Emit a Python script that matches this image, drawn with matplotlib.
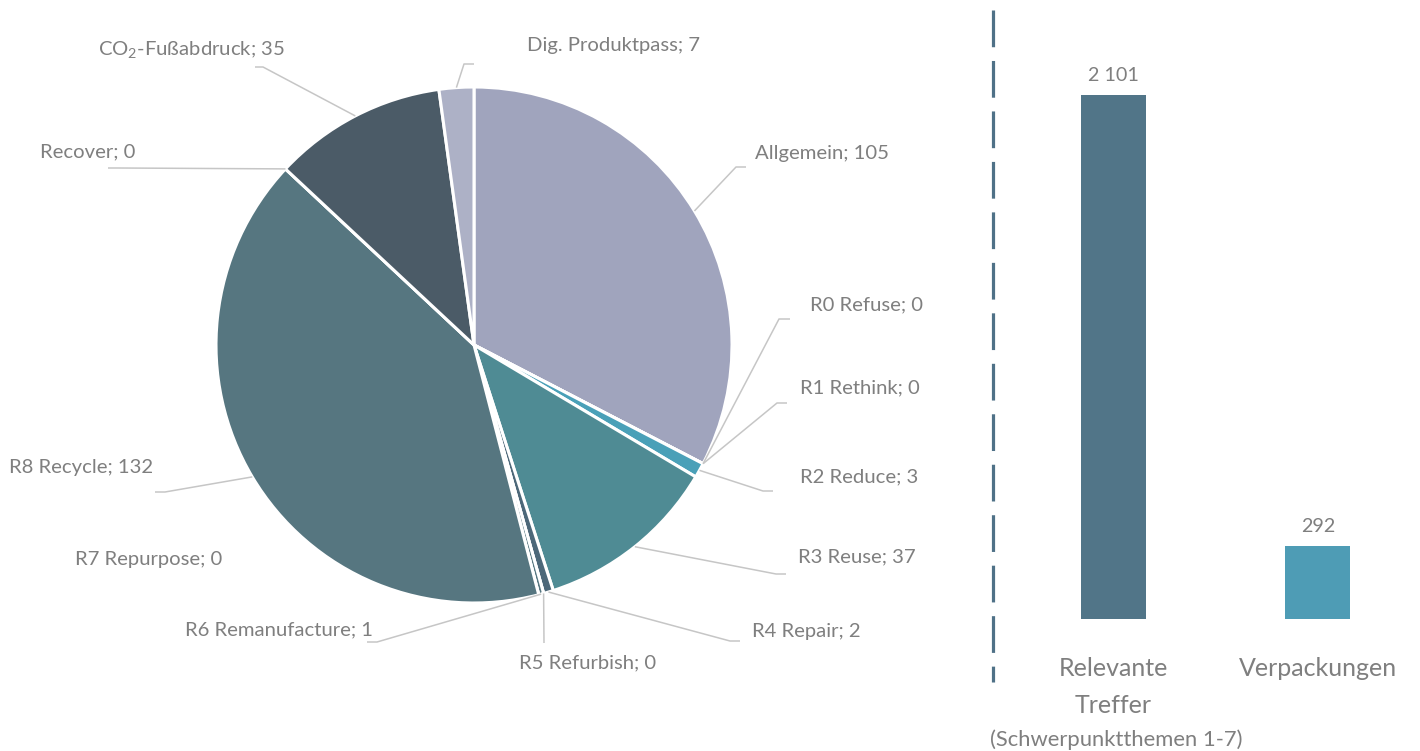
import matplotlib.pyplot as plt
import numpy as np

plt.rcParams["font.family"] = ["Lato", "DejaVu Sans"]
plt.rcParams["mathtext.fontset"] = "custom"
plt.rcParams["mathtext.rm"] = "Lato"

# ─── data ──────────────────────────────────────────────────────────
categories = ["Allgemein", "R0 Refuse", "R1 Rethink", "R2 Reduce", "R3 Reuse",
              "R4 Repair", "R5 Refurbish", "R6 Remanufacture", "R7 Repurpose",
              "R8 Recycle", "Recover", r"CO$_{\mathrm{2}}$-Fußabdruck",
              "Dig. Produktpass"]
values = [105, 0, 0, 3, 37, 2, 0, 1, 0, 132, 0, 35, 7]
slice_colors = ["#a0a4bd", "#7f95a8", "#6b8fa3", "#4aa0b8", "#4f8b94",
                "#4d6879", "#5a7d8a", "#567680", "#567680", "#567680",
                "#4b5b67", "#4b5b67", "#adb1c6"]

bar_labels = ["Relevante\nTreffer", "Verpackungen"]
bar_values = [2101, 292]
bar_colors = ["#517588", "#4e9cb5"]
bar_note = "(Schwerpunktthemen 1-7)"

TEXT = "#7f7f7f"
LEADER = "#c6c6c6"
W, H = 1420, 751

# label layout in pixel coords: (elbow, tail end, text position, ha)
layout = {
    "Allgemein":        ((736, 167), (746, 167), (755, 153), "left"),
    "R0 Refuse":        ((779, 319), (790, 319), (810, 305), "left"),
    "R1 Rethink":       ((777, 403), (787, 403), (800, 388), "left"),
    "R2 Reduce":        ((763, 491), (773, 491), (800, 477), "left"),
    "R3 Reuse":         ((776, 574), (786, 574), (798, 557), "left"),
    "R4 Repair":        ((730, 641), (740, 641), (752, 632), "left"),
    "R5 Refurbish":     ((544, 643), None, (588, 663), "center"),
    "R6 Remanufacture": ((377, 642), (367, 642), (373, 630), "right"),
    "R7 Repurpose":     (None, None, (222, 559), "right"),
    "R8 Recycle":       ((165, 492), (155, 492), (153, 468), "right"),
    "Recover":          ((118, 168), (108, 168), (135, 152), "right"),
    "CO":               ((263, 67), (255, 67), (285, 50), "right"),
    "Dig. Produktpass": ((464, 64), (474, 64), (527, 45), "left"),
}

fig = plt.figure(figsize=(W / 100, H / 100), dpi=100)

# ─── pie (full-figure axes in pixel coords, y down) ────────────────
ax = fig.add_axes([0, 0, 1, 1])
cx, cy, R = 474, 345, 258
ax.pie(values, colors=slice_colors, startangle=-90, counterclock=True,
       center=(cx, cy), radius=R, frame=True,
       wedgeprops=dict(edgecolor="white", linewidth=2.2))
ax.set_xlim(0, W)
ax.set_ylim(H, 0)
ax.set_aspect("equal")
ax.axis("off")

total = sum(values)
cum = np.cumsum([0] + values[:-1])
for name, v, c0 in zip(categories, values, cum):
    key = "CO" if name.startswith("CO") else name
    elbow, tail, (tx, ty), ha = layout[key]
    frac = (c0 + v / 2) / total
    ex = cx + R * np.sin(2 * np.pi * frac)
    ey = cy - R * np.cos(2 * np.pi * frac)
    if elbow is not None:
        pts = [(ex, ey), elbow] + ([tail] if tail else [])
        xs, ys = zip(*pts)
        ax.plot(xs, ys, color=LEADER, lw=1.1, solid_capstyle="butt")
    ax.text(tx, ty, f"{name}; {v}", ha=ha, va="center", color=TEXT,
            fontsize=14.6)

# dashed separator
ax.plot([993, 993], [10, 682], color="#4f7187", lw=2.3,
        linestyle=(0, (11.5, 4.3)))

# ─── bars ──────────────────────────────────────────────────────────
bx = fig.add_axes([1011 / W, (H - 619) / H, 409 / W, 611 / H])
x = np.arange(len(bar_values))
bars = bx.bar(x, bar_values, width=65 / 205, color=bar_colors)
bx.set_xlim(-0.5, 1.5)
bx.set_ylim(0, 2450)
for b, v in zip(bars, bar_values):
    bx.annotate(f"{v:,}".replace(",", " "), (b.get_x() + b.get_width() / 2, v),
                xytext=(0, 8), textcoords="offset points", ha="center",
                va="bottom", color=TEXT, fontsize=14.2)
bx.set_xticks(x)
bx.set_xticklabels(bar_labels, fontsize=18, color=TEXT, linespacing=1.75)
bx.tick_params(axis="x", length=0, pad=27)
bx.set_yticks([])
for s in bx.spines.values():
    s.set_visible(False)
fig.text(1116 / W, 1 - 740 / H, bar_note, ha="center", va="center",
         color=TEXT, fontsize=15.8)

fig.savefig("out.png", dpi=100)
